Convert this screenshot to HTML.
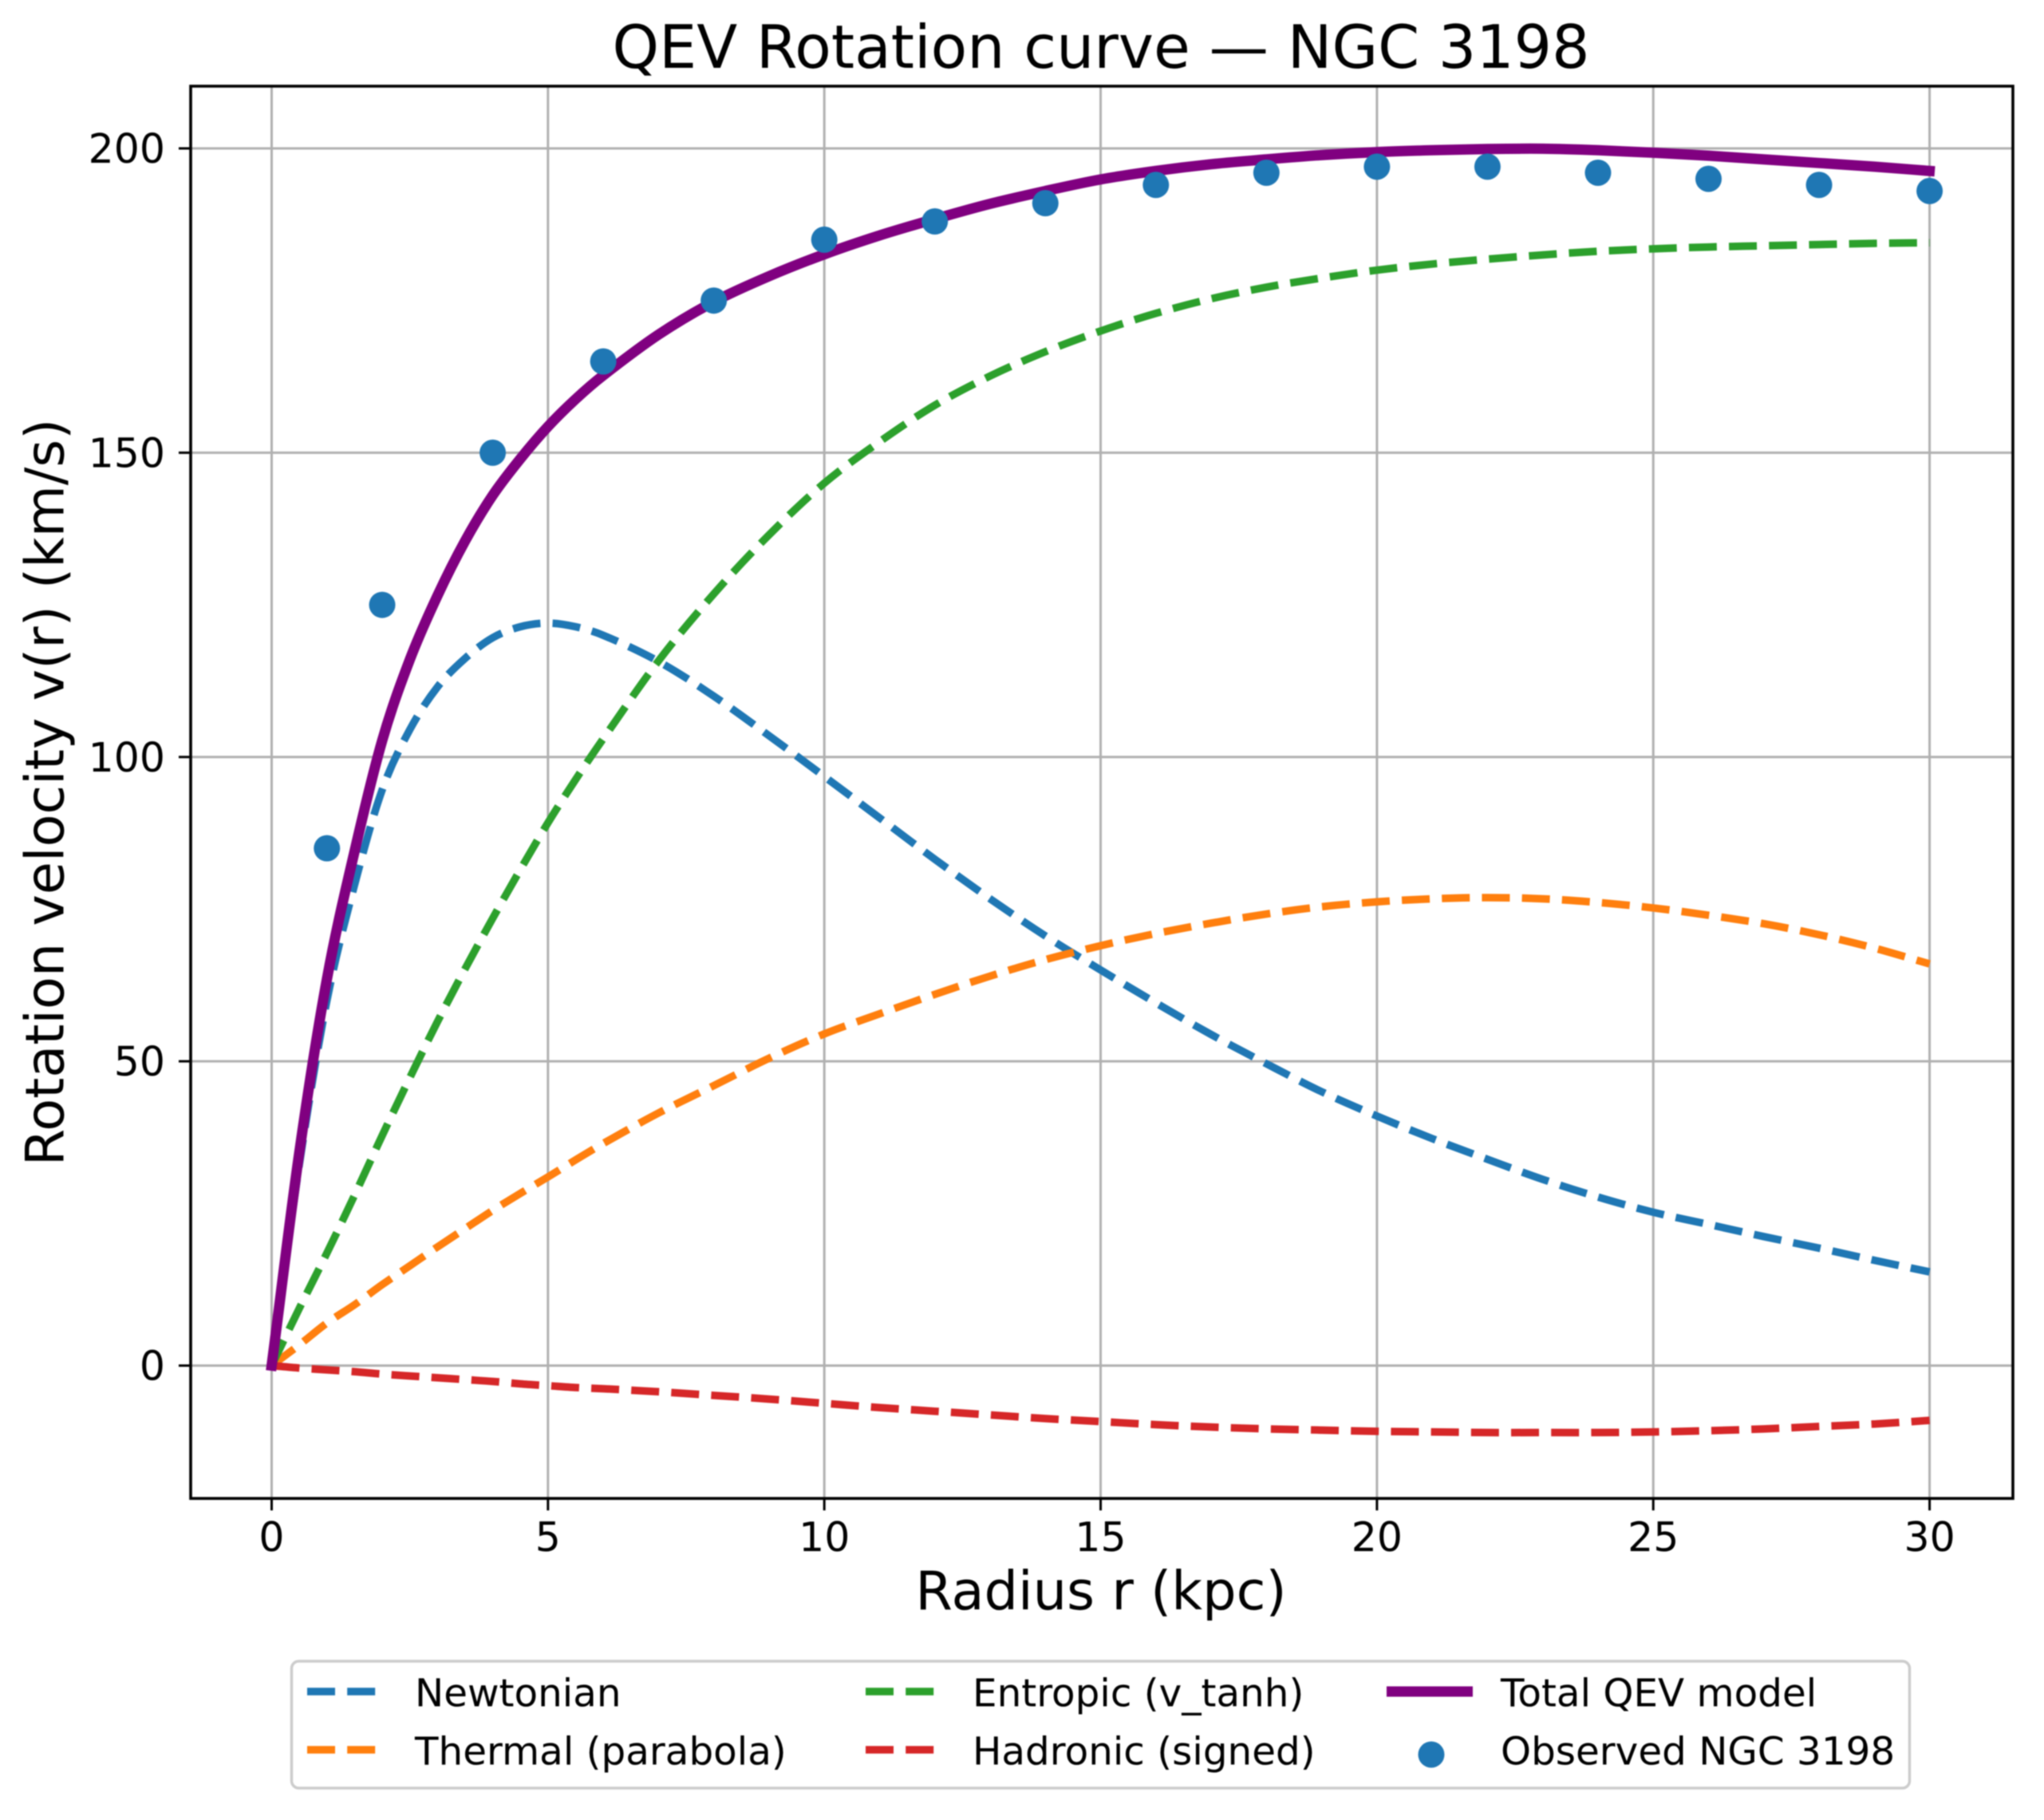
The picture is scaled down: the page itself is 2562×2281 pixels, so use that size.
<!DOCTYPE html>
<html>
<head>
<meta charset="utf-8">
<title>QEV Rotation curve — NGC 3198</title>
<style>
html,body{margin:0;padding:0;background:#fff;width:2562px;height:2281px;overflow:hidden}
svg{display:block;filter:blur(0.7px)}
text{font-family:"DejaVu Sans","Liberation Sans",sans-serif;fill:#000}
</style>
</head>
<body>
<svg id="chart" xmlns="http://www.w3.org/2000/svg" width="2562" height="2281" viewBox="0 0 2562 2281">
  <rect x="0" y="0" width="2562" height="2281" fill="#fff"/>
  <text x="1380" y="85" font-size="74.5" text-anchor="middle">QEV Rotation curve — NGC 3198</text>
  <text x="1380" y="2017" font-size="67" text-anchor="middle">Radius r (kpc)</text>
  <text transform="translate(79.5,993) rotate(-90)" font-size="66.8" text-anchor="middle">Rotation velocity v(r) (km/s)</text>
  <g id="grid"></g>
  <g id="lines"></g>
  <g id="points"></g>
  <g id="axes"></g>
  <g>
    <rect x="365.5" y="2082" width="2028" height="159" rx="9" fill="#fff" stroke="#cccccc" stroke-width="3.5"/>
    <g>
      <line x1="385" y1="2120" x2="473" y2="2120" stroke="#1f77b4" stroke-width="9.5" stroke-dasharray="35 15.2"/>
      <text x="520" y="2138.5" font-size="48.4">Newtonian</text>
    </g>
    <g>
      <line x1="385" y1="2193" x2="473" y2="2193" stroke="#ff7f0e" stroke-width="9.5" stroke-dasharray="35 15.2"/>
      <text x="520" y="2211.5" font-size="48.4">Thermal (parabola)</text>
    </g>
    <g>
      <line x1="1085" y1="2120" x2="1174" y2="2120" stroke="#2ca02c" stroke-width="9.5" stroke-dasharray="35 15.2"/>
      <text x="1219" y="2138.5" font-size="48.4">Entropic (v_tanh)</text>
    </g>
    <g>
      <line x1="1085" y1="2193" x2="1174" y2="2193" stroke="#d62728" stroke-width="9.5" stroke-dasharray="35 15.2"/>
      <text x="1219" y="2211.5" font-size="48.4">Hadronic (signed)</text>
    </g>
    <g>
      <line x1="1738" y1="2120" x2="1846" y2="2120" stroke="#800080" stroke-width="13"/>
      <text x="1881" y="2138.5" font-size="48.4">Total QEV model</text>
    </g>
    <g>
      <circle cx="1794" cy="2199" r="16.5" fill="#1f77b4"/>
      <text x="1881" y="2211.5" font-size="48.4">Observed NGC 3198</text>
    </g>
  </g>
</svg>
<script>
const radii = [0,0.5,1,1.5,2,2.5,3,3.5,4,4.5,5,5.5,6,7,8,9,10,11,12,13,14,15,16,17,18,19,20,21,22,23,24,25,26,27,28,29,30];
const newtonian = [0,33,60,79,94.6,104.5,111.5,116.2,119.6,121.4,122,121.4,120,115.7,110,103.5,96.8,90,83.2,76.7,70.6,65,59.6,54.4,49.6,45,41,37.3,33.9,30.6,27.7,25.2,23.2,21.2,19.3,17.3,15.4];
const thermal = [0,3.4,7,10,13.3,16.4,19.5,22.5,25.5,28.3,31,33.8,36.5,41.5,46,50.5,54.5,57.8,61,64,66.7,69,71,72.7,74.2,75.4,76.2,76.7,76.9,76.7,76.1,75.2,74,72.6,70.8,68.6,66];
const entropic = [0,9.4,18.5,28,37.8,47.3,56.5,65.2,73.5,81.5,89.2,96.3,103,115.8,126.8,136.5,145,151.8,157.8,162.6,166.6,170,172.9,175.3,177.2,178.7,180,181,181.8,182.5,183.1,183.5,183.8,184,184.2,184.4,184.5];
const hadronic = [0,-0.4,-0.7,-1,-1.4,-1.7,-2,-2.3,-2.6,-3,-3.3,-3.6,-3.8,-4.3,-4.9,-5.5,-6.2,-6.9,-7.5,-8.1,-8.7,-9.2,-9.7,-10.1,-10.4,-10.6,-10.8,-10.9,-11,-11,-11,-10.9,-10.7,-10.4,-10,-9.6,-9];
const totalModel = [0,35,63.5,84.5,102.7,116,126.5,135.5,143,149,154.3,158.8,162.7,169.4,174.8,179,182.6,185.7,188.4,190.9,193,194.9,196.3,197.4,198.2,198.9,199.4,199.7,199.9,199.95,199.7,199.3,198.8,198.2,197.6,197,196.3];
const observedRadii = [1,2,4,6,8,10,12,14,16,18,20,22,24,26,28,30];
const observedVelocity = [85,125,150,165,175,185,188,191,194,196,197,197,196,195,194,193];
const xTicks = [0,5,10,15,20,25,30];
const yTicks = [0,50,100,150,200];

const NS = 'http://www.w3.org/2000/svg';
const plotLeft = 239, plotRight = 2523, plotTop = 108, plotBottom = 1878;
function xScale(r){ return 340.5 + r * (2418.6 - 340.5) / 30; }
function yScale(v){ return 1711.5 - v * (1711.5 - 186) / 200; }
function make(tag, parent){
  const el = document.createElementNS(NS, tag);
  parent.appendChild(el);
  return el;
}
function setLine(el, x1, y1, x2, y2, stroke, width){
  el.setAttribute('x1', x1);
  el.setAttribute('y1', y1);
  el.setAttribute('x2', x2);
  el.setAttribute('y2', y2);
  el.setAttribute('stroke', stroke);
  el.setAttribute('stroke-width', width);
}
const gridG = document.getElementById('grid');
const axesG = document.getElementById('axes');
const pointsG = document.getElementById('points');
const linesG = document.getElementById('lines');

xTicks.forEach(function(t){
  const g = make('line', gridG);
  
  
  setLine(g, xScale(t), plotTop, xScale(t), plotBottom, '#b0b0b0', 3);
  const k = make('line', axesG);
  
  
  setLine(k, xScale(t), plotBottom, xScale(t), plotBottom + 15, '#000', 3);
  const l = make('text', axesG);
  
  
  l.setAttribute('x', xScale(t));
  l.setAttribute('y', 1944);
  l.setAttribute('font-size', 50.5);
  l.setAttribute('text-anchor', 'middle');
  l.textContent = t;
});
yTicks.forEach(function(t){
  const g = make('line', gridG);
  
  
  setLine(g, plotLeft, yScale(t), plotRight, yScale(t), '#b0b0b0', 3);
  const k = make('line', axesG);
  
  
  setLine(k, plotLeft - 15, yScale(t), plotLeft, yScale(t), '#000', 3);
  const l = make('text', axesG);
  
  
  l.setAttribute('x', 207);
  l.setAttribute('y', yScale(t) + 18);
  l.setAttribute('font-size', 50.5);
  l.setAttribute('text-anchor', 'end');
  l.textContent = t;
});
const frame = make('rect', axesG);


frame.setAttribute('x', plotLeft);
frame.setAttribute('y', plotTop);
frame.setAttribute('width', plotRight - plotLeft);
frame.setAttribute('height', plotBottom - plotTop);
frame.setAttribute('fill', 'none');
frame.setAttribute('stroke', '#000');
frame.setAttribute('stroke-width', 3.6);

function pathFor(values){
  const px = radii.map(xScale);
  const py = values.map(yScale);
  const n = px.length;
  const slope = px.map(function(_, i){
    const a = Math.max(i - 1, 0);
    const b = Math.min(i + 1, n - 1);
    return (py[b] - py[a]) / (px[b] - px[a]);
  });
  let d = 'M' + px[0].toFixed(2) + ' ' + py[0].toFixed(2);
  for (let i = 0; i < n - 1; i++) {
    const h = (px[i + 1] - px[i]) / 3;
    d += ' C' + (px[i] + h).toFixed(2) + ' ' + (py[i] + slope[i] * h).toFixed(2) +
         ' ' + (px[i + 1] - h).toFixed(2) + ' ' + (py[i + 1] - slope[i + 1] * h).toFixed(2) +
         ' ' + px[i + 1].toFixed(2) + ' ' + py[i + 1].toFixed(2);
  }
  return d;
}
function styleCurve(el, values, color, width){
  el.setAttribute('d', pathFor(values));
  el.setAttribute('fill', 'none');
  el.setAttribute('stroke', color);
  el.setAttribute('stroke-width', width);
  el.setAttribute('stroke-linejoin', 'round');
}
const newtonianLine = make('path', linesG);


styleCurve(newtonianLine, newtonian, '#1f77b4', 9.5);
newtonianLine.setAttribute('stroke-dasharray', '35 15.2');

const thermalLine = make('path', linesG);


styleCurve(thermalLine, thermal, '#ff7f0e', 9.5);
thermalLine.setAttribute('stroke-dasharray', '35 15.2');

const entropicLine = make('path', linesG);


styleCurve(entropicLine, entropic, '#2ca02c', 9.5);
entropicLine.setAttribute('stroke-dasharray', '35 15.2');

const hadronicLine = make('path', linesG);


styleCurve(hadronicLine, hadronic, '#d62728', 9.5);
hadronicLine.setAttribute('stroke-dasharray', '35 15.2');

const totalLine = make('path', linesG);


styleCurve(totalLine, totalModel, '#800080', 13);
totalLine.setAttribute('stroke-linecap', 'square');

observedRadii.forEach(function(r, i){
  const c = make('circle', pointsG);
  
  
  c.setAttribute('cx', xScale(r));
  c.setAttribute('cy', yScale(observedVelocity[i]));
  c.setAttribute('r', 16.5);
  c.setAttribute('fill', '#1f77b4');
});
</script>
</body>
</html>
